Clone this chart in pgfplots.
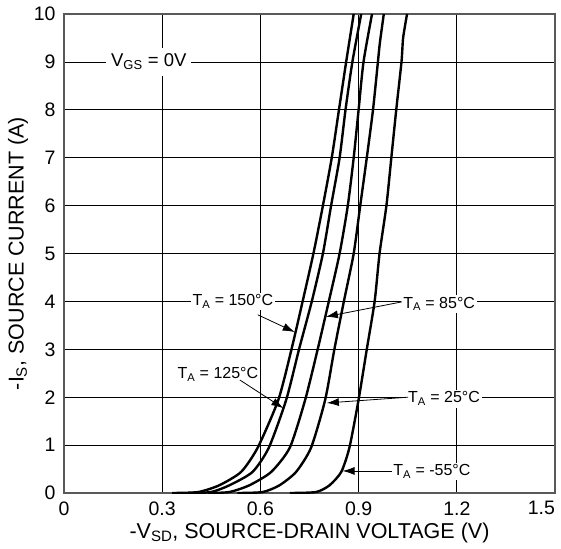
\documentclass[border=0pt]{standalone}
\usepackage{fontspec}
\setmainfont{Liberation Sans}
\usepackage{pgfplots}
\pgfplotsset{compat=1.18}
\usetikzlibrary{arrows.meta}

\begin{document}
\begin{tikzpicture}
\begin{axis}[name=ax,
  scale only axis, width=491pt, height=479pt,
  xmin=0, xmax=1.5, ymin=0, ymax=10,
  xtick={0,0.3,0.6,0.9,1.2,1.5},
  xticklabels={0,0.3,0.6,0.9,1.2,\makebox[0pt][r]{1.5}},
  ytick={0,1,2,3,4,5,6,7,8,9,10},
  grid=major, grid style={black, line width=0.7pt},
  axis line style={black!65, line width=1.1pt},
  major tick length=0pt,
  /pgf/number format/assume math mode=true,
  tick label style={font=\fontsize{19.5}{22}\selectfont},
  xticklabel style={yshift=-5pt},
  yticklabel style={xshift=-5pt},
  label style={font=\fontsize{21.5}{24}\selectfont},
  xlabel={-V\textsubscript{SD}, SOURCE-DRAIN VOLTAGE (V)},
  ylabel={-I\textsubscript{S}, SOURCE CURRENT (A)},
  xlabel style={at={(axis description cs:0.5,-0.0835)}, anchor=center},
  ylabel style={at={(axis description cs:-0.0937,0.5)}, anchor=center, rotate=0},
  every axis plot post/.append style={black, line width=2.4pt, mark=none, smooth, tension=0.4},
]
% 150 C
\addplot coordinates {(0.33,0)(0.41,0.02)(0.474,0.16)(0.541,0.44)(0.592,0.95)(0.655,1.95)(0.695,3.0)(0.729,4.0)(0.762,5.0)(0.791,6.0)(0.818,7.0)(0.840,8.0)(0.862,9.0)(0.885,10.0)};
% 125 C
\addplot coordinates {(0.38,0)(0.449,0.02)(0.505,0.16)(0.576,0.44)(0.626,0.95)(0.679,1.95)(0.718,3.0)(0.757,4.0)(0.791,5.0)(0.816,6.0)(0.842,7.0)(0.860,8.0)(0.881,9.0)(0.908,10.0)};
% 85 C
\addplot coordinates {(0.44,0)(0.505,0.02)(0.566,0.16)(0.633,0.44)(0.690,0.95)(0.737,1.95)(0.775,3.0)(0.809,4.0)(0.842,5.0)(0.867,6.0)(0.885,7.0)(0.900,8.0)(0.915,9.0)(0.941,10.0)};
% 25 C
\addplot coordinates {(0.53,0)(0.607,0.02)(0.658,0.16)(0.709,0.44)(0.755,0.95)(0.798,1.95)(0.826,3.0)(0.855,4.0)(0.885,5.0)(0.905,6.0)(0.925,7.0)(0.944,8.0)(0.959,9.0)(0.965,9.4)(0.977,10.0)};
% -55 C
\addplot coordinates {(0.69,0)(0.77,0.02)(0.811,0.16)(0.847,0.44)(0.872,0.95)(0.900,1.95)(0.925,3.0)(0.949,4.0)(0.964,5.0)(0.985,6.0)(1.000,7.0)(1.015,8.0)(1.031,9.0)(1.036,9.5)(1.048,10.0)};

\node[fill=white, inner xsep=5pt, inner ysep=6pt, font=\fontsize{18.5}{21}\selectfont] at (axis cs:0.259,9) {V\textsubscript{GS} = 0V};
\node[fill=white, inner sep=2pt, font=\fontsize{16}{19}\selectfont] at (axis cs:0.516,4.0) {T\textsubscript{A} = 150°C};
\node[fill=white, inner sep=2pt, font=\fontsize{16}{19}\selectfont] at (axis cs:0.47,2.48) {T\textsubscript{A} = 125°C};
\node[fill=white, inner sep=2pt, font=\fontsize{16}{19}\selectfont] at (axis cs:1.146,3.95) {T\textsubscript{A} = 85°C};
\node[fill=white, inner sep=2pt, font=\fontsize{16}{19}\selectfont] at (axis cs:1.161,1.97) {T\textsubscript{A} = 25°C};
\node[fill=white, inner sep=2pt, font=\fontsize{16}{19}\selectfont] at (axis cs:1.124,0.45) {T\textsubscript{A} = -55°C};

\draw[-{Latex[length=12pt,width=8pt]}, line width=0.8pt] (axis cs:0.592,3.72) -- (axis cs:0.705,3.36);
\draw[-{Latex[length=12pt,width=8pt]}, line width=0.8pt] (axis cs:0.537,2.36) -- (axis cs:0.670,1.77);
\draw[-{Latex[length=12pt,width=8pt]}, line width=0.8pt] (axis cs:1.032,3.99) -- (axis cs:0.800,3.68);
\draw[-{Latex[length=12pt,width=8pt]}, line width=0.8pt] (axis cs:1.051,2.0) -- (axis cs:0.803,1.88);
\draw[-{Latex[length=12pt,width=8pt]}, line width=0.8pt] (axis cs:1.002,0.46) -- (axis cs:0.851,0.46);
\end{axis}
\pgfresetboundingbox
\path[use as bounding box] ([xshift=-64pt,yshift=-55pt]ax.south west) rectangle ([xshift=6pt,yshift=14pt]ax.north east);
\end{tikzpicture}
\end{document}
